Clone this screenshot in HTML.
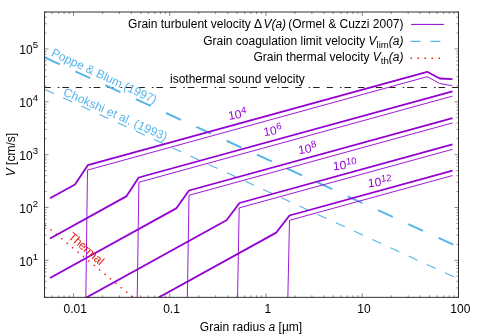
<!DOCTYPE html>
<html><head><meta charset="utf-8"><title>plot</title>
<style>
html,body{margin:0;padding:0;background:#fff;}
svg{display:block;will-change:transform;}
text{font-family:"Liberation Sans",sans-serif;font-size:12px;fill:#000;}
.i{font-style:italic;}
</style></head><body>
<svg width="480" height="336" viewBox="0 0 480 336">
<rect x="0" y="0" width="480" height="336" fill="#fff"/>
<defs><clipPath id="c"><rect x="44.5" y="12" width="414" height="285.35"/></clipPath></defs>
<path d="M44.49 297.35v-2.00M44.49 12.00v2.00M52.11 297.35v-2.00M52.11 12.00v2.00M58.56 297.35v-2.00M58.56 12.00v2.00M64.14 297.35v-2.00M64.14 12.00v2.00M69.07 297.35v-2.00M69.07 12.00v2.00M73.47 297.35v-4.00M73.47 12.00v4.00M102.45 297.35v-2.00M102.45 12.00v2.00M119.40 297.35v-2.00M119.40 12.00v2.00M131.42 297.35v-2.00M131.42 12.00v2.00M140.75 297.35v-2.00M140.75 12.00v2.00M148.37 297.35v-2.00M148.37 12.00v2.00M154.82 297.35v-2.00M154.82 12.00v2.00M160.40 297.35v-2.00M160.40 12.00v2.00M165.33 297.35v-2.00M165.33 12.00v2.00M169.73 297.35v-4.00M169.73 12.00v4.00M198.71 297.35v-2.00M198.71 12.00v2.00M215.66 297.35v-2.00M215.66 12.00v2.00M227.68 297.35v-2.00M227.68 12.00v2.00M237.01 297.35v-2.00M237.01 12.00v2.00M244.63 297.35v-2.00M244.63 12.00v2.00M251.08 297.35v-2.00M251.08 12.00v2.00M256.66 297.35v-2.00M256.66 12.00v2.00M261.59 297.35v-2.00M261.59 12.00v2.00M265.99 297.35v-4.00M265.99 12.00v4.00M294.97 297.35v-2.00M294.97 12.00v2.00M311.92 297.35v-2.00M311.92 12.00v2.00M323.94 297.35v-2.00M323.94 12.00v2.00M333.27 297.35v-2.00M333.27 12.00v2.00M340.89 297.35v-2.00M340.89 12.00v2.00M347.34 297.35v-2.00M347.34 12.00v2.00M352.92 297.35v-2.00M352.92 12.00v2.00M357.85 297.35v-2.00M357.85 12.00v2.00M362.25 297.35v-4.00M362.25 12.00v4.00M391.23 297.35v-2.00M391.23 12.00v2.00M408.18 297.35v-2.00M408.18 12.00v2.00M420.20 297.35v-2.00M420.20 12.00v2.00M429.53 297.35v-2.00M429.53 12.00v2.00M437.15 297.35v-2.00M437.15 12.00v2.00M443.60 297.35v-2.00M443.60 12.00v2.00M449.18 297.35v-2.00M449.18 12.00v2.00M454.11 297.35v-2.00M454.11 12.00v2.00M458.51 297.35v-4.00M458.51 12.00v4.00M44.50 297.23h2.00M458.50 297.23h-2.00M44.50 287.92h2.00M458.50 287.92h-2.00M44.50 281.32h2.00M458.50 281.32h-2.00M44.50 276.20h2.00M458.50 276.20h-2.00M44.50 272.02h2.00M458.50 272.02h-2.00M44.50 268.48h2.00M458.50 268.48h-2.00M44.50 265.42h2.00M458.50 265.42h-2.00M44.50 262.72h2.00M458.50 262.72h-2.00M44.50 260.30h4.00M458.50 260.30h-4.00M44.50 244.40h2.00M458.50 244.40h-2.00M44.50 235.09h2.00M458.50 235.09h-2.00M44.50 228.49h2.00M458.50 228.49h-2.00M44.50 223.37h2.00M458.50 223.37h-2.00M44.50 219.19h2.00M458.50 219.19h-2.00M44.50 215.65h2.00M458.50 215.65h-2.00M44.50 212.59h2.00M458.50 212.59h-2.00M44.50 209.89h2.00M458.50 209.89h-2.00M44.50 207.47h4.00M458.50 207.47h-4.00M44.50 191.57h2.00M458.50 191.57h-2.00M44.50 182.26h2.00M458.50 182.26h-2.00M44.50 175.66h2.00M458.50 175.66h-2.00M44.50 170.54h2.00M458.50 170.54h-2.00M44.50 166.36h2.00M458.50 166.36h-2.00M44.50 162.82h2.00M458.50 162.82h-2.00M44.50 159.76h2.00M458.50 159.76h-2.00M44.50 157.06h2.00M458.50 157.06h-2.00M44.50 154.64h4.00M458.50 154.64h-4.00M44.50 138.74h2.00M458.50 138.74h-2.00M44.50 129.43h2.00M458.50 129.43h-2.00M44.50 122.83h2.00M458.50 122.83h-2.00M44.50 117.71h2.00M458.50 117.71h-2.00M44.50 113.53h2.00M458.50 113.53h-2.00M44.50 109.99h2.00M458.50 109.99h-2.00M44.50 106.93h2.00M458.50 106.93h-2.00M44.50 104.23h2.00M458.50 104.23h-2.00M44.50 101.81h4.00M458.50 101.81h-4.00M44.50 85.91h2.00M458.50 85.91h-2.00M44.50 76.60h2.00M458.50 76.60h-2.00M44.50 70.00h2.00M458.50 70.00h-2.00M44.50 64.88h2.00M458.50 64.88h-2.00M44.50 60.70h2.00M458.50 60.70h-2.00M44.50 57.16h2.00M458.50 57.16h-2.00M44.50 54.10h2.00M458.50 54.10h-2.00M44.50 51.40h2.00M458.50 51.40h-2.00M44.50 48.98h4.00M458.50 48.98h-4.00M44.50 33.08h2.00M458.50 33.08h-2.00M44.50 23.77h2.00M458.50 23.77h-2.00M44.50 17.17h2.00M458.50 17.17h-2.00M44.50 12.05h2.00M458.50 12.05h-2.00" stroke="#000" stroke-opacity="0.45" stroke-width="1" fill="none"/>
<g clip-path="url(#c)" fill="none" stroke-linejoin="round">
<path d="M44.5 87.5H458.5" stroke="#222" stroke-width="1" stroke-dasharray="6.3 7 1.6 2.9 6.6 6.95"/>
<path d="M45 57.50L458.50 247.05" stroke="#56B4E9" stroke-width="1.95" stroke-dasharray="16.3 17"/>
<path d="M45 89.40L458.50 278.95" stroke="#56B4E9" stroke-width="1.1" stroke-dasharray="9.8 10.2"/>
<path d="M45 225L136.24 300.00" stroke="#E51E10" stroke-width="1.4" stroke-dasharray="1.5 5.5"/>
<path d="M50.00 198.30L75.00 184.50L87.80 165.20L427.20 71.80L439.80 78.50L452.50 79.20" stroke="#9400D3" stroke-width="1.8"/>
<path d="M85.80 300.00L87.50 170.08L427.20 76.70L439.80 83.50L452.50 85.80" stroke="#9400D3" stroke-width="0.9"/>
<path d="M50.00 238.49L126.25 196.40L138.75 177.50L452.50 91.31" stroke="#9400D3" stroke-width="1.8"/>
<path d="M137.20 300.00L138.90 182.26L452.50 96.11" stroke="#9400D3" stroke-width="0.9"/>
<path d="M50.00 278.06L176.20 208.40L189.00 190.50L452.50 118.12" stroke="#9400D3" stroke-width="1.8"/>
<path d="M187.30 300.00L189.00 195.30L452.50 122.92" stroke="#9400D3" stroke-width="0.9"/>
<path d="M50.00 317.63L226.50 220.20L239.50 203.00L452.50 144.49" stroke="#9400D3" stroke-width="1.8"/>
<path d="M237.50 300.00L239.20 207.88L452.50 149.29" stroke="#9400D3" stroke-width="0.9"/>
<path d="M50.00 357.49L276.25 232.60L289.50 215.50L452.50 170.72" stroke="#9400D3" stroke-width="1.8"/>
<path d="M287.80 300.00L289.50 220.30L452.50 175.52" stroke="#9400D3" stroke-width="0.9"/>
</g>
<rect x="44.5" y="12" width="414" height="285.35" fill="none" stroke="#303030" stroke-width="1"/>
<path d="M411 24.4H444" stroke="#9400D3" stroke-width="1" fill="none"/>
<path d="M410.5 41.4H444" stroke="#56B4E9" stroke-width="1.1" stroke-dasharray="9.8 10.2" fill="none"/>
<path d="M410.5 58.3H444" stroke="#E51E10" stroke-width="1.4" stroke-dasharray="1.5 5.5" fill="none"/>
<text x="403.5" y="28.2" text-anchor="end">Grain turbulent velocity Δ<tspan class="i" dx="1.3">V(a)</tspan><tspan dx="-1.3"> (Ormel</tspan> &amp; Cuzzi 2007)</text>
<text x="403.5" y="44.5" text-anchor="end">Grain coagulation limit velocity <tspan class="i">V</tspan><tspan font-size="9.6" dy="3">lim</tspan><tspan class="i" dy="-3">(a)</tspan></text>
<text x="403.5" y="60.8" text-anchor="end">Grain thermal velocity <tspan class="i">V</tspan><tspan font-size="9.6" dy="3">th</tspan><tspan class="i" dy="-3">(a)</tspan></text>
<text x="170" y="83.4">isothermal sound velocity</text>
<text x="19.3" y="265.80">10<tspan font-size="9.6" dy="-6.2">1</tspan></text>
<text x="19.3" y="212.97">10<tspan font-size="9.6" dy="-6.2">2</tspan></text>
<text x="19.3" y="160.14">10<tspan font-size="9.6" dy="-6.2">3</tspan></text>
<text x="19.3" y="107.31">10<tspan font-size="9.6" dy="-6.2">4</tspan></text>
<text x="19.3" y="54.48">10<tspan font-size="9.6" dy="-6.2">5</tspan></text>
<text x="75.27" y="313.4" text-anchor="middle">0.01</text>
<text x="171.53" y="313.4" text-anchor="middle">0.1</text>
<text x="267.79" y="313.4" text-anchor="middle">1</text>
<text x="364.05" y="313.4" text-anchor="middle">10</text>
<text x="460.31" y="313.4" text-anchor="middle">100</text>
<text x="251" y="331" text-anchor="middle">Grain radius <tspan class="i">a</tspan> [µm]</text>
<text transform="translate(14.8 154.6) rotate(-90)" text-anchor="middle"><tspan class="i">V</tspan> [cm/s]</text>
<text transform="translate(50.5 55.5) rotate(25)" style="fill:#56B4E9">Poppe &amp; Blum (1997)</text>
<text transform="translate(62.5 94.9) rotate(24.1)" textLength="112.5" style="fill:#56B4E9">Chokshi et al. (1993)</text>
<text transform="translate(67.5 237.7) rotate(41)" textLength="42.8" style="fill:#E51E10">Thermal</text>
<text transform="translate(229 120.1) rotate(-10)" style="fill:#9400D3">10<tspan font-size="9.6" dy="-4.2">4</tspan></text>
<text transform="translate(264.3 136.3) rotate(-10)" style="fill:#9400D3">10<tspan font-size="9.6" dy="-4.2">6</tspan></text>
<text transform="translate(299 154.3) rotate(-10)" style="fill:#9400D3">10<tspan font-size="9.6" dy="-4.2">8</tspan></text>
<text transform="translate(333.3 170.2) rotate(-5)" style="fill:#9400D3">10<tspan font-size="9.6" dy="-4.2">10</tspan></text>
<text transform="translate(368.3 187.2) rotate(-5)" style="fill:#9400D3">10<tspan font-size="9.6" dy="-4.2">12</tspan></text>
</svg></body></html>
